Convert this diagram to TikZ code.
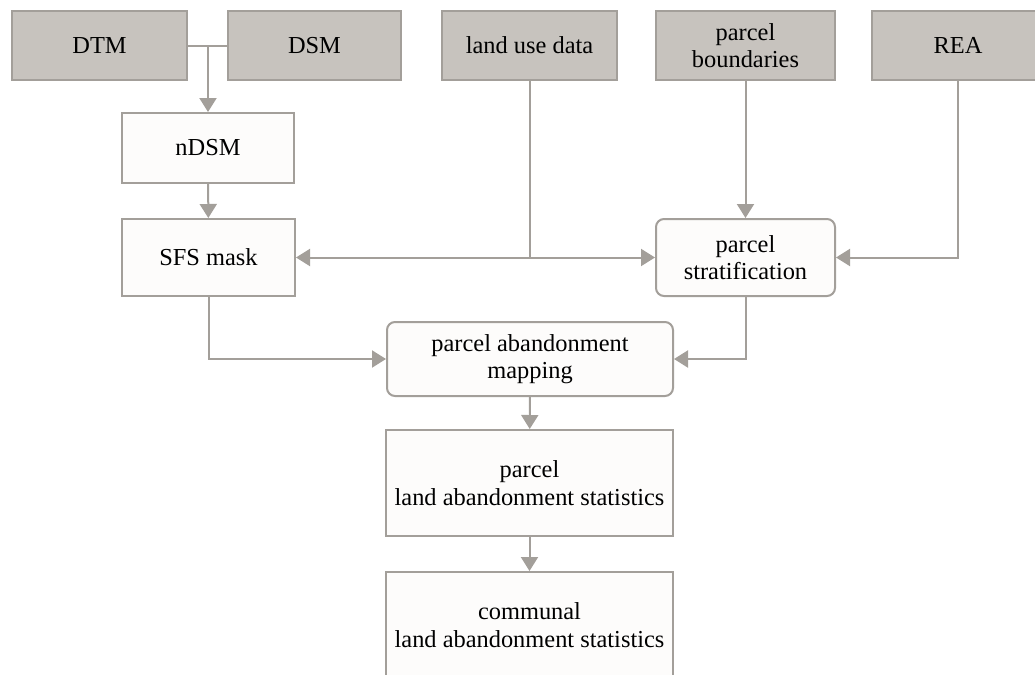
\documentclass[tikz,border=0pt]{standalone}
\usepackage{fontspec}
\setmainfont{Liberation Serif}
\usepackage{xcolor}
\usetikzlibrary{arrows.meta}
\definecolor{flowline}{HTML}{A39F9A}
\definecolor{inputfill}{HTML}{C7C3BE}
\definecolor{boxfill}{HTML}{FDFCFB}

\begin{document}
\begin{tikzpicture}[x=0.5pt, y=-0.5pt,
  every node/.style={font=\fontsize{12.2}{13.8}\selectfont, align=center, inner sep=0pt},
  inputbox/.style={draw=flowline, line width=1pt, fill=inputfill, minimum height=34.5pt},
  procbox/.style={draw=flowline, line width=1pt, fill=boxfill},
  roundbox/.style={procbox, rounded corners=4pt},
  flow/.style={draw=flowline, line width=1pt},
  arr/.style={flow, -{Triangle[length=7pt, width=8.5pt]}}]
  \useasboundingbox (0,0) rectangle (1035,675);
  % input data
  \node[inputbox, minimum width=87.5pt] (dtm) at (99.5,45.5) {DTM};
  \node[inputbox, minimum width=86.5pt] (dsm) at (314.5,45.5) {DSM};
  \node[inputbox, minimum width=87.5pt] (landuse) at (529.5,45.5) {land use data};
  \node[inputbox, minimum width=89.5pt] (bounds) at (745.5,45.5) {parcel\\boundaries};
  \node[inputbox, minimum width=86pt] (rea) at (958,45.5) {REA};
  % processing steps
  \node[procbox, minimum width=86pt, minimum height=35pt] (ndsm) at (208,148) {nDSM};
  \node[procbox, minimum width=86.5pt, minimum height=38.5pt] (sfs) at (208.5,257.5) {SFS mask};
  \node[roundbox, minimum width=89.5pt, minimum height=38.5pt] (strat) at (745.5,257.5) {parcel\\stratification};
  \node[roundbox, minimum width=143pt, minimum height=37pt] (mapping) at (530,359) {parcel abandonment\\mapping};
  \node[procbox, minimum width=143.5pt, minimum height=53pt] (pstats) at (529.5,483) {parcel\\land abandonment statistics};
  \node[procbox, minimum width=143.5pt, minimum height=53pt] (cstats) at (529.5,625) {communal\\land abandonment statistics};
  % connectors
  \draw[flow] (dtm.east) -- (dsm.west);
  \draw[arr] (ndsm.north |- dtm.east) -- (ndsm.north);
  \draw[arr] (ndsm) -- (sfs);
  \draw[arr] (landuse.south) |- (sfs.east);
  \draw[arr] (landuse.south) |- (strat.west);
  \draw[arr] (bounds) -- (strat);
  \draw[arr] (rea.south) |- (strat.east);
  \draw[arr] (sfs.south) |- (mapping.west);
  \draw[arr] (strat.south) |- (mapping.east);
  \draw[arr] (mapping) -- (pstats);
  \draw[arr] (pstats) -- (cstats);
\end{tikzpicture}
\end{document}
